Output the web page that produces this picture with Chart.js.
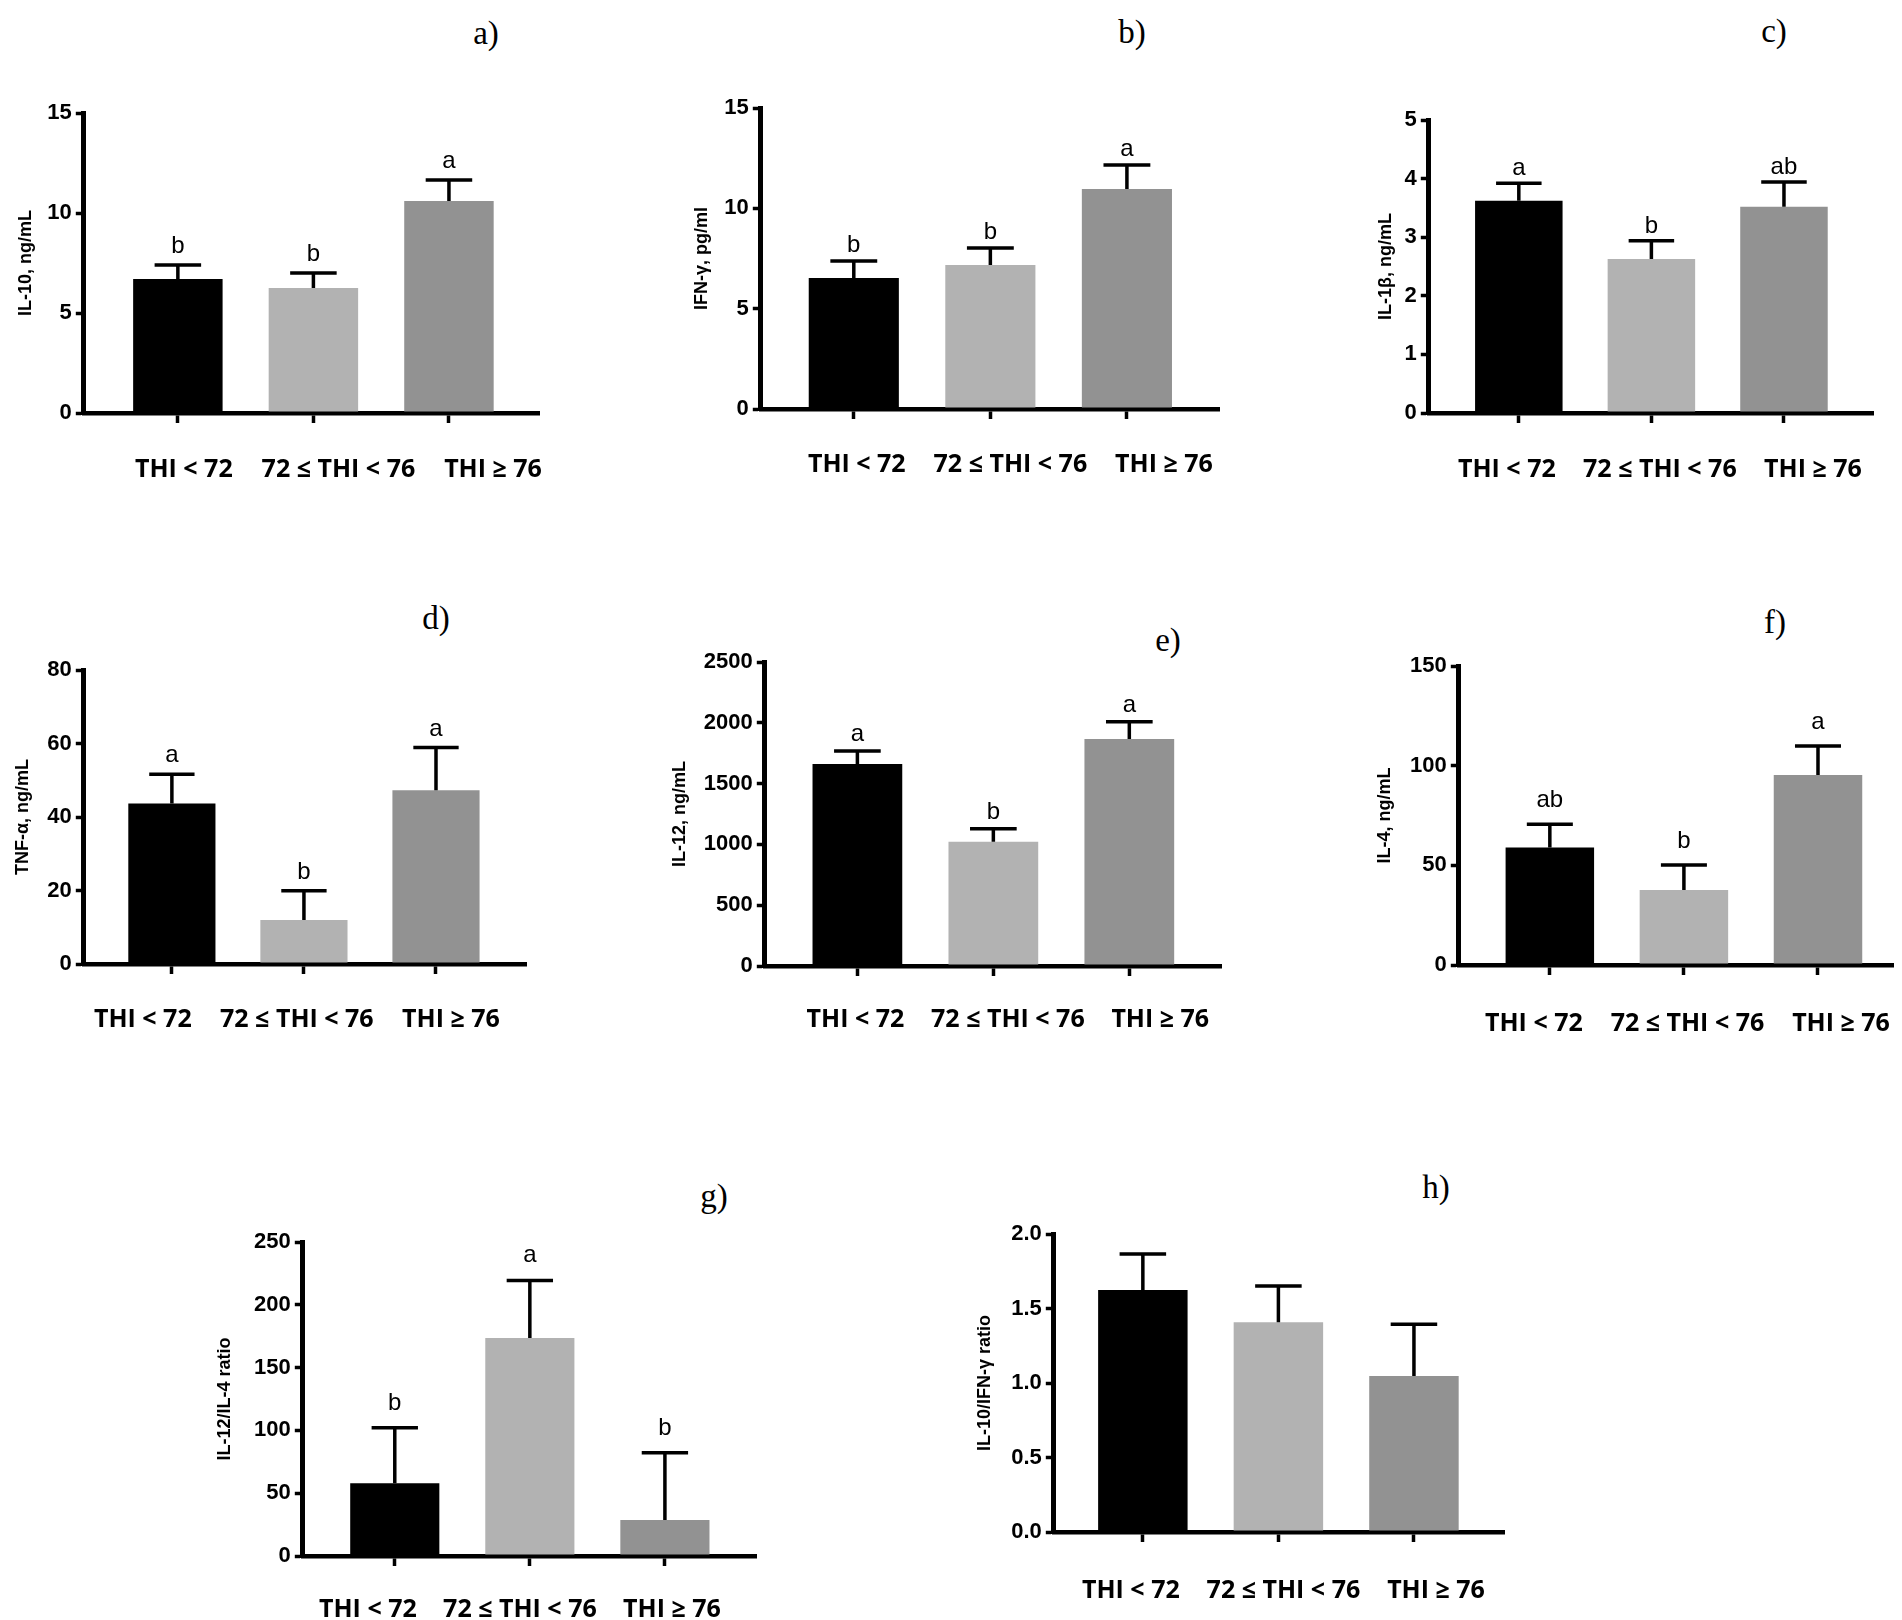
<!DOCTYPE html>
<html><head><meta charset="utf-8">
<script src="https://cdn.jsdelivr.net/npm/chart.js@4.4.0/dist/chart.umd.min.js"></script>
<style>
html,body{margin:0;padding:0;background:#fff;width:1902px;height:1620px;overflow:hidden;position:relative}
.pl{position:absolute;font-family:'Liberation Serif','Times New Roman',serif;font-size:33px;color:#000;transform:translate(-50%,-50%);line-height:1;white-space:nowrap}
canvas{position:absolute}
</style></head><body>
<script>
// ---------- data ----------
const categories = ['THI < 72', '72 ≤ THI < 76', 'THI ≥ 76'];
const barColors = ['#000000', '#b2b2b2', '#929292'];

const il10Mean = [6.7, 6.25, 10.6];
const il10Sem = [0.7, 0.75, 1.05];
const il10Letters = ['b', 'b', 'a'];
const il10Ticks = [0, 5, 10, 15];

const ifnMean = [6.53, 7.17, 10.96];
const ifnSem = [0.84, 0.85, 1.2];
const ifnLetters = ['b', 'b', 'a'];
const ifnTicks = [0, 5, 10, 15];

const il1bMean = [3.62, 2.63, 3.52];
const il1bSem = [0.30, 0.31, 0.42];
const il1bLetters = ['a', 'b', 'ab'];
const il1bTicks = [0, 1, 2, 3, 4, 5];

const tnfMean = [43.7, 12.0, 47.3];
const tnfSem = [7.9, 7.9, 11.6];
const tnfLetters = ['a', 'b', 'a'];
const tnfTicks = [0, 20, 40, 60, 80];

const il12Mean = [1661, 1022, 1867];
const il12Sem = [107, 107, 142];
const il12Letters = ['a', 'b', 'a'];
const il12Ticks = [0, 500, 1000, 1500, 2000, 2500];

const il4Mean = [59.0, 37.6, 95.3];
const il4Sem = [11.6, 12.6, 14.6];
const il4Letters = ['ab', 'b', 'a'];
const il4Ticks = [0, 50, 100, 150];

const r124Mean = [57.9, 173.5, 28.7];
const r124Sem = [44.3, 45.9, 53.6];
const r124Letters = ['b', 'a', 'b'];
const r124Ticks = [0, 50, 100, 150, 200, 250];

const r10gMean = [1.624, 1.407, 1.047];
const r10gSem = [0.242, 0.244, 0.347];
const r10gLetters = ['', '', ''];
const r10gTicks = [0, 0.5, 1.0, 1.5, 2.0];

// ---------- panels (layout separate from data) ----------
const panels = [
  {tag:'a)', tagX:486, tagY:33, mean:il10Mean, sem:il10Sem, letters:il10Letters, ticks:il10Ticks, title:'IL-10, ng/mL', dec:0,
   L:84, R:538, T:113, B:413, xMin:-0.694, xMax:2.657, lMin:-0.647, lMax:2.291, labGap:48.5, titleX:26, letGap:12},
  {tag:'b)', tagX:1132, tagY:32, mean:ifnMean, sem:ifnSem, letters:ifnLetters, ticks:ifnTicks, title:'IFN-γ, pg/ml', dec:0,
   L:761, R:1218, T:108, B:409, xMin:-0.681, xMax:2.667, lMin:-0.625, lMax:2.352, labGap:48, titleX:702, letGap:9},
  {tag:'c)', tagX:1774, tagY:31, mean:il1bMean, sem:il1bSem, letters:il1bLetters, ticks:il1bTicks, title:'IL-1β, ng/mL', dec:0,
   L:1429, R:1872, T:120, B:413, xMin:-0.679, xMax:2.664, lMin:-0.510, lMax:2.386, labGap:49, titleX:1386, letGap:8},
  {tag:'d)', tagX:436, tagY:618, mean:tnfMean, sem:tnfSem, letters:tnfLetters, ticks:tnfTicks, title:'TNF-α, ng/mL', dec:0,
   L:84, R:525, T:670, B:964, xMin:-0.667, xMax:2.674, lMin:-0.383, lMax:2.481, labGap:48, titleX:23, letGap:12},
  {tag:'e)', tagX:1168, tagY:640, mean:il12Mean, sem:il12Sem, letters:il12Letters, ticks:il12Ticks, title:'IL-12, ng/mL', dec:0,
   L:765, R:1220, T:662, B:966, xMin:-0.681, xMax:2.667, lMin:-0.595, lMax:2.392, labGap:46, titleX:680, letGap:10},
  {tag:'f)', tagX:1775, tagY:622, mean:il4Mean, sem:il4Sem, letters:il4Letters, ticks:il4Ticks, title:'IL-4, ng/mL', dec:0,
   L:1459, R:1892, T:666, B:965, xMin:-0.679, xMax:2.552, lMin:-0.489, lMax:2.332, labGap:51, titleX:1385, letGap:17},
  {tag:'g)', tagX:714, tagY:1196, mean:r124Mean, sem:r124Sem, letters:r124Letters, ticks:r124Ticks, title:'IL-12/IL-4 ratio', dec:0,
   L:303, R:755, T:1242, B:1556, xMin:-0.681, xMax:2.667, lMin:-0.428, lMax:2.546, labGap:46, titleX:225, letGap:18},
  {tag:'h)', tagX:1436, tagY:1187, mean:r10gMean, sem:r10gSem, letters:r10gLetters, ticks:r10gTicks, title:'IL-10/IFN-γ ratio', dec:1,
   L:1054, R:1503, T:1234, B:1532, xMin:-0.657, xMax:2.657, lMin:-0.505, lMax:2.439, labGap:51, titleX:985, letGap:10}
];

const SANS = "'Liberation Sans', Arial, Helvetica, sans-serif";
const CAT_FAMILY = "'Open Sans', 'Liberation Sans', Arial, sans-serif";
const PAD_T = 30, PAD_R = 30, XH1 = 12, XH2 = 70;
const TICK_FONT = 22, CAT_FONT = 25, TITLE_FONT = 18, LET_FONT = 24;

const errorBarPlugin = {
  id: 'errorBars',
  afterDatasetsDraw(chart, args, opts) {
    const ctx = chart.ctx;
    const ys = chart.scales.y;
    const meta = chart.getDatasetMeta(0);
    ctx.save();
    ctx.strokeStyle = '#000';
    ctx.lineWidth = 3.5;
    ctx.fillStyle = '#000';
    ctx.font = LET_FONT + 'px ' + SANS;
    ctx.textAlign = 'center';
    ctx.textBaseline = 'alphabetic';
    meta.data.forEach((bar, i) => {
      const topPx = ys.getPixelForValue(opts.mean[i] + opts.sem[i]);
      const half = bar.width * 0.26;
      ctx.beginPath();
      ctx.moveTo(bar.x, bar.y);
      ctx.lineTo(bar.x, topPx);
      ctx.moveTo(bar.x - half, topPx);
      ctx.lineTo(bar.x + half, topPx);
      ctx.stroke();
      if (opts.letters[i]) ctx.fillText(opts.letters[i], bar.x, topPx - opts.letGap);
    });
    ctx.restore();
  }
};

function build() {
panels.forEach(p => {
  const titleLH = TITLE_FONT * 1.2;
  const yW = p.L - p.titleX + titleLH / 2;
  const left = p.L - yW;
  const top = p.T - PAD_T;
  const w = Math.round(yW + (p.R - p.L) + PAD_R);
  const h = Math.round((p.B - p.T) + PAD_T + XH1 + XH2);

  const tag = document.createElement('div');
  tag.className = 'pl';
  tag.textContent = p.tag;
  tag.style.left = p.tagX + 'px';
  tag.style.top = p.tagY + 'px';
  document.body.appendChild(tag);

  const cv = document.createElement('canvas');
  cv.width = w; cv.height = h;
  cv.style.left = left + 'px';
  cv.style.top = top + 'px';
  cv.style.width = w + 'px';
  cv.style.height = h + 'px';
  document.body.appendChild(cv);

  const yMax = p.ticks[p.ticks.length - 1];
  new Chart(cv.getContext('2d'), {
    type: 'bar',
    data: {
      datasets: [{
        data: p.mean.map((v, i) => ({x: i, y: v})),
        backgroundColor: barColors,
        borderWidth: 0,
        categoryPercentage: 1,
        barPercentage: 0.66,
        xAxisID: 'x', yAxisID: 'y'
      }]
    },
    options: {
      responsive: false,
      devicePixelRatio: 1,
      animation: false,
      layout: {padding: {top: PAD_T, right: PAD_R, left: 0, bottom: 0}},
      plugins: {legend: {display: false}, tooltip: {enabled: false},
        errorBars: {mean: p.mean, sem: p.sem, letters: p.letters, letGap: p.letGap}},
      scales: {
        y: {
          type: 'linear', position: 'left', min: 0, max: yMax,
          afterBuildTicks: s => { s.ticks = p.ticks.map(v => ({value: v})); },
          afterFit: s => { s.width = yW; },
          border: {display: true, color: '#000', width: 5},
          grid: {display: true, drawOnChartArea: false, drawTicks: true, tickLength: 8, tickWidth: 3.5, tickColor: '#000', color: '#000', lineWidth: 3},
          ticks: {color: '#000', padding: 4, font: {family: SANS, size: TICK_FONT, weight: 'bold'},
                  callback: v => Number(v).toFixed(p.dec)},
          title: {display: true, text: p.title, color: '#000', padding: {top: 0, bottom: 0},
                  font: {family: SANS, size: TITLE_FONT, weight: 'bold'}}
        },
        x: {
          type: 'linear', position: 'bottom', weight: 1, min: p.xMin, max: p.xMax, offset: false,
          afterBuildTicks: s => { s.ticks = categories.map((c, i) => ({value: i})); },
          afterFit: s => { s.height = XH1; },
          border: {display: true, color: '#000', width: 4.5},
          grid: {display: true, offset: false, drawOnChartArea: false, drawTicks: true, tickLength: 10, tickWidth: 3.5, tickColor: '#000', color: '#000', lineWidth: 3},
          ticks: {display: false}
        },
        x2: {
          type: 'linear', axis: 'x', position: 'bottom', weight: 2, min: p.lMin, max: p.lMax, offset: false,
          afterBuildTicks: s => { s.ticks = categories.map((c, i) => ({value: i})); },
          afterFit: s => { s.height = XH2; },
          border: {display: false},
          grid: {display: false, offset: false},
          ticks: {color: '#000', autoSkip: false, maxRotation: 0, minRotation: 0,
                  padding: p.labGap - XH1 - CAT_FONT * 0.6,
                  font: {family: CAT_FAMILY, size: CAT_FONT, weight: 'bold'},
                  callback: v => categories[Math.round(v)]}
        }
      }
    },
    plugins: [errorBarPlugin]
  });
});
}

if (document.fonts && document.fonts.load) {
  Promise.all([
    document.fonts.load("bold 25px 'Open Sans'"),
    document.fonts.load("bold 22px 'Liberation Sans'"),
    document.fonts.load("24px 'Liberation Sans'"),
    document.fonts.load("33px 'Liberation Serif'")
  ]).then(build, build);
} else {
  build();
}
</script>
</body></html>
